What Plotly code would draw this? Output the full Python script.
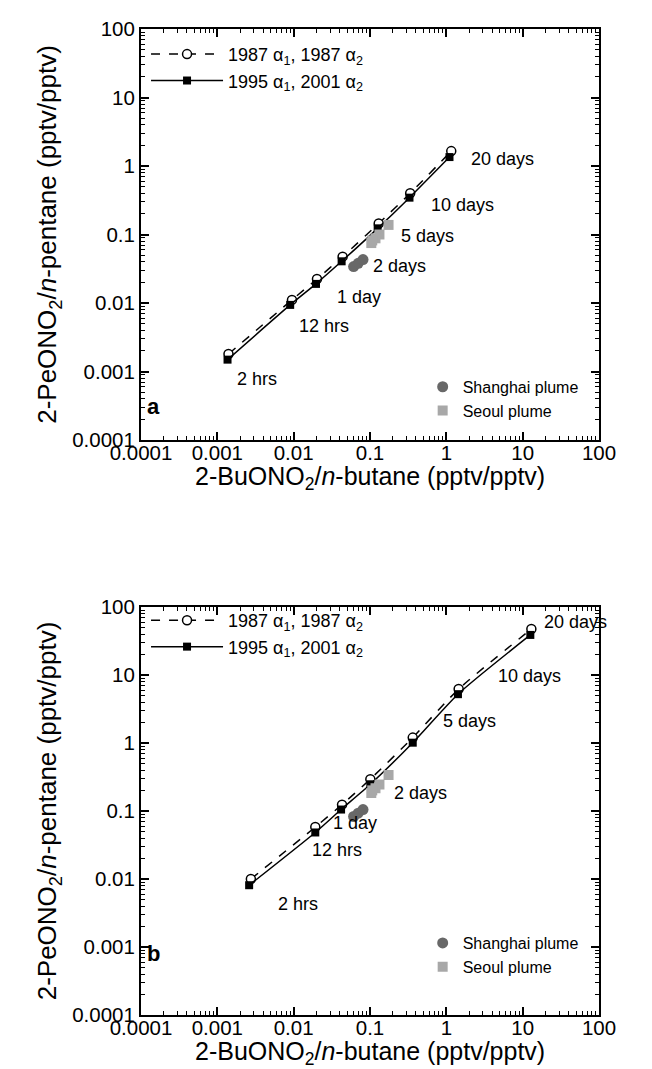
import numpy as np
import plotly.graph_objects as go

# ---------------- data ----------------
time_labels = ["2 hrs", "12 hrs", "1 day", "2 days", "5 days", "10 days", "20 days"]

# panel a : model curves
a87_x = [0.0014, 0.0095, 0.0202, 0.0438, 0.130, 0.336, 1.16]
a87_y = [0.0018, 0.0111, 0.0224, 0.0475, 0.145, 0.400, 1.65]
a95_x = [0.00136, 0.0090, 0.0196, 0.0425, 0.126, 0.329, 1.10]
a95_y = [0.00149, 0.00938, 0.0190, 0.0406, 0.123, 0.345, 1.35]

# panel b : model curves
b87_x = [0.00275, 0.0192, 0.0430, 0.101, 0.363, 1.45, 13.0]
b87_y = [0.0100, 0.058, 0.124, 0.294, 1.20, 6.2, 47.4]
b95_x = [0.00261, 0.0192, 0.0418, 0.101, 0.363, 1.42, 12.6]
b95_y = [0.0081, 0.0483, 0.105, 0.247, 1.01, 5.22, 38.8]

# observations
shanghai_x = [0.061, 0.070, 0.081]
shanghai_a_y = [0.034, 0.038, 0.043]
shanghai_b_y = [0.083, 0.093, 0.105]
seoul_x = [0.175, 0.133, 0.118, 0.107, 0.104]
seoul_a_y = [0.138, 0.100, 0.088, 0.082, 0.075]
seoul_b_y = [0.338, 0.245, 0.216, 0.201, 0.184]

tick_vals = [1e-4, 1e-3, 1e-2, 1e-1, 1, 10, 100]
tick_text = ["0.0001", "0.001", "0.01", "0.1", "1", "10", "100"]

# label offsets in pixels (dx right, dy down) from the square markers
offs_a = [(29, 19), (34, 21), (43, 13), (58, 5), (50, 8), (53, 7), (53, 2)]
offs_b = [(49, 19), (22, 18), (14, 13), (50, 9), (57, -22), (72, -18), (45, -13)]

FONT = "Liberation Sans, Arial, Helvetica, sans-serif"
minor_vals = [m * 10.0 ** e for e in range(-4, 2) for m in range(2, 10)]

fig = go.Figure()

lab87 = "1987 α<sub>1</sub>, 1987 α<sub>2</sub>"
lab95 = "1995 α<sub>1</sub>, 2001 α<sub>2</sub>"

for (x87, y87, x95, y95, sh_y, se_y, xa, ya, lg1, lg2) in [
    (a87_x, a87_y, a95_x, a95_y, shanghai_a_y, seoul_a_y, "x", "y", "legend", "legend2"),
    (b87_x, b87_y, b95_x, b95_y, shanghai_b_y, seoul_b_y, "x2", "y2", "legend3", "legend4"),
]:
    fig.add_trace(go.Scatter(
        x=x87, y=y87, mode="lines+markers", name=lab87, xaxis=xa, yaxis=ya,
        legend=lg1,
        line=dict(color="black", width=1.5, dash="dash", shape="spline", smoothing=0.6),
        marker=dict(symbol="circle", size=9, color="white",
                    line=dict(color="black", width=1.5))))
    fig.add_trace(go.Scatter(
        x=x95, y=y95, mode="lines+markers", name=lab95, xaxis=xa, yaxis=ya,
        legend=lg1,
        line=dict(color="black", width=1.5, shape="spline", smoothing=0.6),
        marker=dict(symbol="square", size=8, color="black")))
    fig.add_trace(go.Scatter(
        x=shanghai_x, y=sh_y, mode="markers", name="Shanghai plume",
        xaxis=xa, yaxis=ya, legend=lg2,
        marker=dict(symbol="circle", size=11, color="#686868")))
    fig.add_trace(go.Scatter(
        x=seoul_x, y=se_y, mode="markers", name="Seoul plume",
        xaxis=xa, yaxis=ya, legend=lg2,
        marker=dict(symbol="square", size=10, color="#a8a8a8")))

# time labels
for (xs, ys, offs, xr, yr) in [(a95_x, a95_y, offs_a, "x", "y"),
                               (b95_x, b95_y, offs_b, "x2", "y2")]:
    for xv, yv, t, (dx, dy) in zip(xs, ys, time_labels, offs):
        fig.add_annotation(x=np.log10(xv), y=np.log10(yv), xref=xr, yref=yr,
                           text=t, showarrow=False, xshift=dx, yshift=-dy,
                           font=dict(size=18, color="black", family=FONT))

xt = "2-BuONO<sub>2</sub>/<i>n</i>-butane (pptv/pptv)"
yt = "2-PeONO<sub>2</sub>/<i>n</i>-pentane (pptv/pptv)"

# panel letters and x-axis titles
for txt, xr, yr, yy, tsh in [("a", "x domain", "y domain", 0.047, -38),
                             ("b", "x2 domain", "y2 domain", 0.115, -38)]:
    fig.add_annotation(x=0.008, y=yy, xref=xr, yref=yr, text="<b>%s</b>" % txt,
                       xanchor="left", showarrow=False,
                       font=dict(size=22, color="black", family=FONT))
    fig.add_annotation(x=0.5, y=0, xref=xr, yref=yr, text=xt, yshift=tsh,
                       yanchor="middle", showarrow=False,
                       font=dict(size=25, color="black", family=FONT))


def axis(domain, title, anchor, **kw):
    d = dict(
        type="log", range=[-4, 2], domain=domain, anchor=anchor,
        tickmode="array", tickvals=tick_vals, ticktext=tick_text,
        ticks="inside", ticklen=8, tickwidth=1.5, tickcolor="black",
        showline=True, linecolor="black", linewidth=2, mirror="allticks",
        showgrid=False, zeroline=False,
        minor=dict(tickmode="array", tickvals=minor_vals, ticks="inside",
                   ticklen=4, tickwidth=1.2, tickcolor="black", showgrid=False),
        tickfont=dict(size=20.5, color="black", family=FONT),
    )
    if title:
        d["title"] = dict(text=title, font=dict(size=26, color="black", family=FONT),
                          standoff=8)
    d.update(kw)
    return d


# the page adds an 8 px body margin, so the figure is 8 px smaller than the window
W, H = 644, 1061
top, bot = 9, 54
base = H - bot            # pixel row of panel b x-axis (figure coords)
ph = H - top - bot
ya_dom = [(base - 425) / ph, 1.0]
yb_dom = [0.0, (base - 594) / ph]


def py(p):
    return (base - p) / ph


tl = dict(font=dict(size=18, color="black", family=FONT),
          bgcolor="rgba(0,0,0,0)", borderwidth=0,
          xanchor="left", yanchor="top", itemwidth=72)
br = dict(font=dict(size=16, color="black", family=FONT),
          bgcolor="rgba(0,0,0,0)", borderwidth=0,
          xanchor="left", yanchor="top", itemwidth=30)

fig.update_layout(
    width=W, height=H,
    margin=dict(l=133, r=53, t=top, b=bot),
    paper_bgcolor="white", plot_bgcolor="white",
    font=dict(family=FONT, color="black"),
    xaxis=axis([0, 1], None, "y", ticklabelstandoff=-7),
    yaxis=axis(ya_dom, yt, "x"),
    xaxis2=axis([0, 1], None, "y2", ticklabelstandoff=-7),
    yaxis2=axis(yb_dom, yt, "x2"),
    legend=dict(x=0.011, y=py(16), **tl),
    legend2=dict(x=0.615, y=py(354), **br),
    legend3=dict(x=0.011, y=py(589), **tl),
    legend4=dict(x=0.615, y=py(917), **br),
    showlegend=True,
)

fig.write_html("out.html")
